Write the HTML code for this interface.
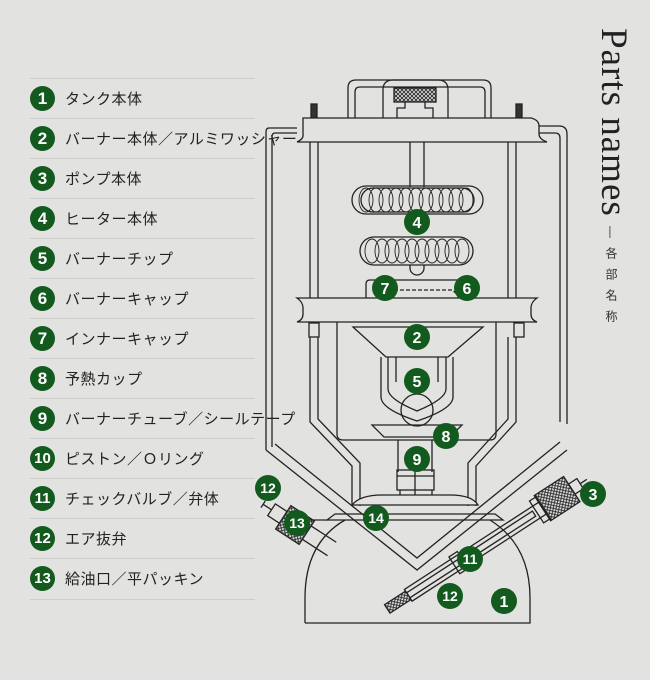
<!DOCTYPE html>
<html><head><meta charset="utf-8"><style>
html,body{margin:0;padding:0}
body{width:650px;height:680px;background:#e2e2e0;position:relative;overflow:hidden;font-family:"Liberation Sans","Noto Sans CJK JP",sans-serif}
.row{position:absolute;left:30px;width:225px;height:40px;border-top:1px solid #cdcdcb}
.row .c{position:absolute;left:0;top:7px;width:25px;height:25px;border-radius:50%;background:#135a1f;color:#fff;font-size:17px;line-height:25px;text-align:center;font-weight:bold}
.row .t{position:absolute;left:35px;top:9px;font-size:15px;color:#222;white-space:nowrap;letter-spacing:0.5px}
.title{position:absolute;left:632px;top:28px;transform-origin:0 0;transform:rotate(90deg);white-space:nowrap;font-family:"Liberation Serif",serif;font-size:37px;letter-spacing:1px;color:#222;line-height:1}
.sub{position:absolute;left:603px;top:226px;writing-mode:vertical-rl;font-family:"Liberation Sans","Noto Sans CJK JP",sans-serif;font-size:12px;color:#333;letter-spacing:9px}
</style></head><body>
<div class="row" style="top:78px"><div class="c">1</div><div class="t">タンク本体</div></div>
<div class="row" style="top:118px"><div class="c">2</div><div class="t">バーナー本体／アルミワッシャー</div></div>
<div class="row" style="top:158px"><div class="c">3</div><div class="t">ポンプ本体</div></div>
<div class="row" style="top:198px"><div class="c">4</div><div class="t">ヒーター本体</div></div>
<div class="row" style="top:238px"><div class="c">5</div><div class="t">バーナーチップ</div></div>
<div class="row" style="top:278px"><div class="c">6</div><div class="t">バーナーキャップ</div></div>
<div class="row" style="top:318px"><div class="c">7</div><div class="t">インナーキャップ</div></div>
<div class="row" style="top:358px"><div class="c">8</div><div class="t">予熱カップ</div></div>
<div class="row" style="top:398px"><div class="c">9</div><div class="t">バーナーチューブ／シールテープ</div></div>
<div class="row" style="top:438px"><div class="c" style="font-size:15px">10</div><div class="t">ピストン／Ｏリング</div></div>
<div class="row" style="top:478px"><div class="c" style="font-size:15px">11</div><div class="t">チェックバルブ／弁体</div></div>
<div class="row" style="top:518px"><div class="c" style="font-size:15px">12</div><div class="t">エア抜弁</div></div>
<div class="row" style="top:558px"><div class="c" style="font-size:15px">13</div><div class="t">給油口／平パッキン</div><div style="position:absolute;left:0;top:40px;width:225px;border-top:1px solid #cdcdcb"></div></div>

<div class="title">Parts names</div>
<div class="sub">—各部名称</div>

<svg width="650" height="680" style="position:absolute;left:0;top:0" fill="none" stroke="#222" stroke-width="1.3">
<defs>
<pattern id="mesh" width="4" height="4" patternUnits="userSpaceOnUse"><rect width="4" height="4" fill="#ddd" stroke="none"/><path d="M0 0L4 4M4 0L0 4" stroke="#222" stroke-width="0.8"/></pattern>
</defs>
<path d="M348 120V88q0-8 8-8h127q8 0 8 8v32"/>
<path d="M355 120V92q0-5 5-5h120q5 0 5 5v28"/>
<path d="M383 118V90q0-10 10-10h45q10 0 10 10v28"/>
<rect x="394" y="88" width="42" height="14" fill="url(#mesh)"/>
<path d="M397 118v-10h8v-6M433 118v-10h-8v-6"/>
<rect x="311" y="104" width="6" height="14" fill="#333"/><rect x="516" y="104" width="6" height="14" fill="#333"/>
<path d="M303 118h228q8 2 8 8v8q0 5 8 8H297q7-3 6-8v-8q0-6 0-8z" fill="#e2e2e0"/>
<path d="M297 128h-28q-3 0-3 4v318" /><path d="M297 133h-22q-3 0-3 4v310"/>
<path d="M539 126h20q8 0 8 8v290"/><path d="M539 133h16q5 0 5 5v284"/>
<path d="M310 142v158M318 142v158M508 142v158M516 142v158"/>
<path d="M410 142v45M424 142v45"/>
<rect x="352" y="186" width="131" height="28" rx="14"/>
<rect x="361" y="188" width="113" height="24" rx="12"/>
<g stroke-width="0.9">
<path d="M366 188 a7 12 0 0 1 0 24 a7 12 0 0 1 0 -24 M376 188a7 12 0 0 1 0 24a7 12 0 0 1 0-24M386 188a7 12 0 0 1 0 24a7 12 0 0 1 0-24M396 188a7 12 0 0 1 0 24a7 12 0 0 1 0-24M406 188a7 12 0 0 1 0 24a7 12 0 0 1 0-24M416 188a7 12 0 0 1 0 24a7 12 0 0 1 0-24M426 188a7 12 0 0 1 0 24a7 12 0 0 1 0-24M436 188a7 12 0 0 1 0 24a7 12 0 0 1 0-24M446 188a7 12 0 0 1 0 24a7 12 0 0 1 0-24M456 188a7 12 0 0 1 0 24a7 12 0 0 1 0-24M466 188a7 12 0 0 1 0 24a7 12 0 0 1 0-24"/>
<path d="M372 239a7 12 0 0 1 0 24a7 12 0 0 1 0-24M382 239a7 12 0 0 1 0 24a7 12 0 0 1 0-24M392 239a7 12 0 0 1 0 24a7 12 0 0 1 0-24M402 239a7 12 0 0 1 0 24a7 12 0 0 1 0-24M412 239a7 12 0 0 1 0 24a7 12 0 0 1 0-24M422 239a7 12 0 0 1 0 24a7 12 0 0 1 0-24M432 239a7 12 0 0 1 0 24a7 12 0 0 1 0-24M442 239a7 12 0 0 1 0 24a7 12 0 0 1 0-24M452 239a7 12 0 0 1 0 24a7 12 0 0 1 0-24M462 239a7 12 0 0 1 0 24a7 12 0 0 1 0-24"/>
</g>
<rect x="360" y="237" width="113" height="28" rx="14"/>
<path d="M410 265v3a7 7 0 0 0 14 0v-3"/>
<path d="M366 322v-38q0-4 4-4h94q4 0 4 4v38"/>
<path d="M394 290h58l6 5v14" stroke-dasharray="4 2"/>
<g stroke="none" fill="#222">
<rect x="370" y="306" width="96" height="2.5" rx="1"/>
<rect x="370" y="315" width="96" height="2.5" rx="1"/>
</g>
<path d="M297 298h240q-6 4-6 10v6q0 6 6 8H297q6-2 6-8v-6q0-6-6-10z" fill="#e2e2e0"/>
<rect x="309" y="323" width="10" height="14"/><rect x="514" y="323" width="10" height="14"/>
<path d="M310 337v85l42 44v40M318 337v82l42 44v43M516 337v85l-40 44v40M508 337v82l-40 44v43"/>
<path d="M337 322v112q0 6 6 6h147q6 0 6-6V322"/>
<path d="M353 327h130l-35 30h-62z"/>
<path d="M381 357v40M388 357v32M396 357v25M438 357v25M446 357v32M453 357v40"/>
<path d="M381 397q0 12 36 24q36-12 36-24"/>
<path d="M388 389q0 10 29 22q29-12 29-22"/>
<circle cx="417" cy="410" r="16"/>
<path d="M372 425h90l-12 12h-66z"/>
<path d="M398 440v32M432 440v32"/>
<rect x="397" y="470" width="37" height="20"/><path d="M397 476h37M415 470v27"/>
<path d="M400 490v7M432 490v7"/>
<path d="M352 505q8-10 30-10h68q22 0 28 10z" fill="#e2e2e0"/>
<path d="M327 520l8-6h160l8 6z"/>
<path d="M305 623v-25q0-55 40-78M490 520q40 25 40 78v25H305"/>
<path d="M266 450l151 120l150-120"/>
<path d="M275 444l142 114l143-116"/>
<g transform="translate(555,500) rotate(-33)">
<rect x="-175" y="-7" width="160" height="14"/>
<rect x="-175" y="-3" width="150" height="6"/>
<rect x="-15" y="-15" width="35" height="30" fill="url(#mesh)"/>
<rect x="-22" y="-13" width="8" height="26"/>
<rect x="20" y="-6" width="10" height="12"/>
<path d="M30 0h8"/>
<rect x="-120" y="-10" width="10" height="20"/>
<rect x="-200" y="-5" width="25" height="10" fill="url(#mesh)"/>
</g>
<g transform="translate(295,525) rotate(33)">
<rect x="-14" y="-14" width="28" height="28" fill="url(#mesh)"/>
<rect x="-28" y="-7" width="14" height="14"/>
<path d="M-28 0h-10M-38 -4v8"/>
<path d="M14 -8h30M14 8h30"/>
</g>
<path d="M327 520l-25 0" />
</svg>
<svg width="650" height="680" style="position:absolute;left:0;top:0">
<g fill="#135a1f"><circle cx="504" cy="601" r="13"/><circle cx="417" cy="337" r="13"/><circle cx="593" cy="494" r="13"/><circle cx="417" cy="222" r="13"/><circle cx="417" cy="381" r="13"/><circle cx="467" cy="288" r="13"/><circle cx="385" cy="288" r="13"/><circle cx="446" cy="436" r="13"/><circle cx="417" cy="459" r="13"/><circle cx="470" cy="559" r="13"/><circle cx="268" cy="488" r="13"/><circle cx="450" cy="596" r="13"/><circle cx="297" cy="523" r="13"/><circle cx="376" cy="518" r="13"/></g>
<g fill="#fff" font-family="Liberation Sans,sans-serif" font-weight="bold" font-size="16" text-anchor="middle">
<text x="504" y="607">1</text><text x="417" y="343">2</text><text x="593" y="500">3</text><text x="417" y="228">4</text><text x="417" y="387">5</text><text x="467" y="294">6</text><text x="385" y="294">7</text><text x="446" y="442">8</text><text x="417" y="465">9</text>
<g font-size="14"><text x="470" y="564">11</text><text x="268" y="493">12</text><text x="450" y="601">12</text><text x="297" y="528">13</text><text x="376" y="523">14</text></g>
</g>
</svg>
</body></html>
